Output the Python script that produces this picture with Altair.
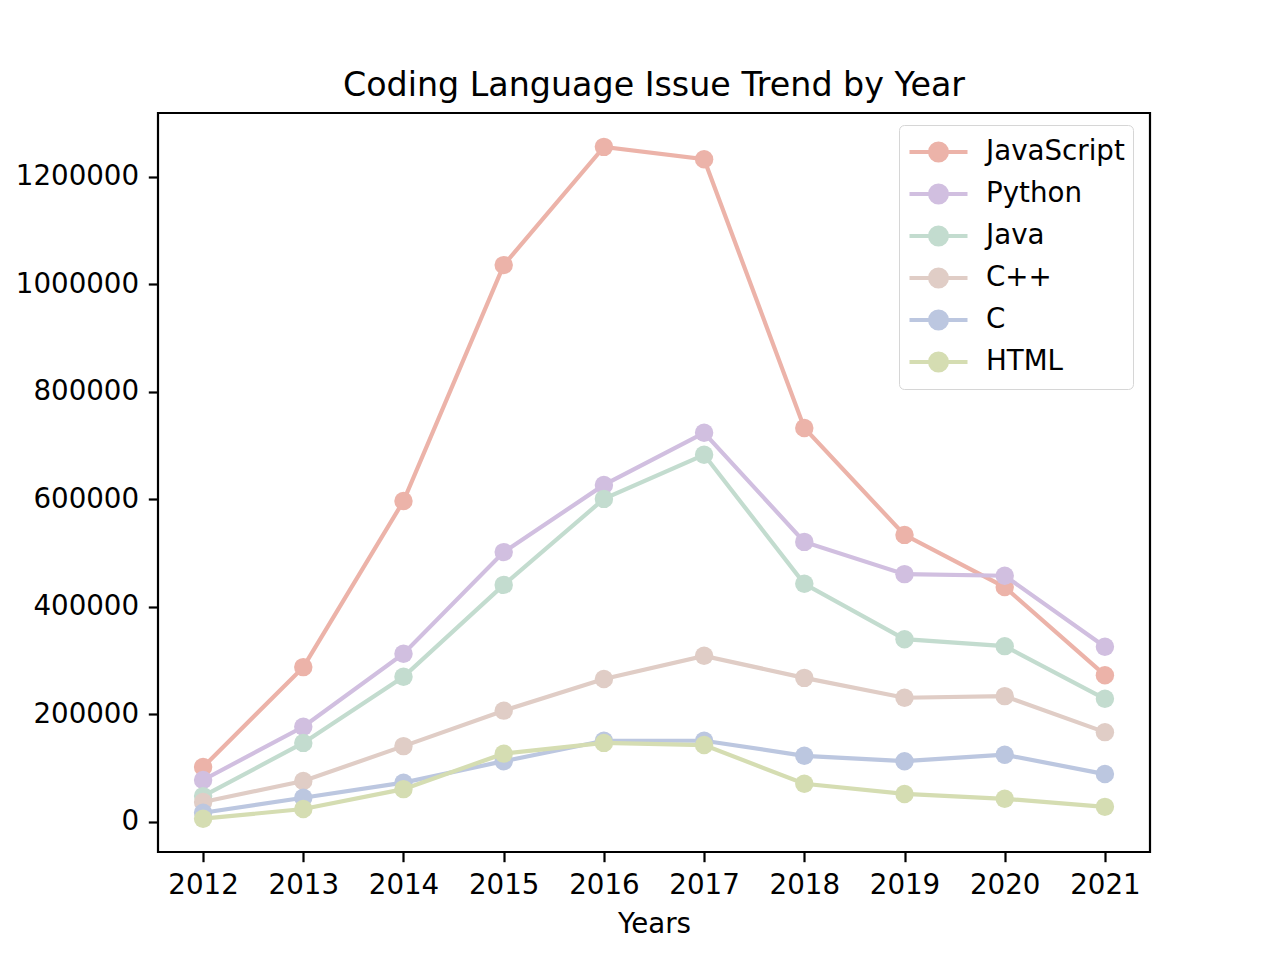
import altair as alt
import pandas as pd

years = list(range(2012, 2022))
languages = ["JavaScript", "Python", "Java", "C++", "C", "HTML"]
javascript = [102000, 288000, 597000, 1036000, 1256000, 1233000, 733000, 534000, 437000, 273000]
python = [78000, 177000, 313000, 502000, 627000, 724000, 521000, 461000, 458000, 326000]
java = [48000, 147000, 270000, 441000, 601000, 683000, 443000, 340000, 327000, 229000]
cpp = [37000, 76000, 141000, 207000, 266000, 309000, 268000, 231000, 234000, 167000]
c_lang = [17000, 45000, 73000, 113000, 151000, 151000, 123000, 113000, 125000, 89000]
html = [6000, 24000, 61000, 127000, 147000, 143000, 71000, 52000, 43000, 28000]
series = [javascript, python, java, cpp, c_lang, html]
colors = ["#ecb3a9", "#d1bfe0", "#c3dccf", "#e0cdc6", "#bcc7e0", "#d5ddb2"]
y_ticks = [0, 200000, 400000, 600000, 800000, 1000000, 1200000]

rows = []
for lang, vals in zip(languages, series):
    for yr, v in zip(years, vals):
        rows.append({"Year": yr, "Language": lang, "Issues": v})
df = pd.DataFrame(rows)

FONT = "DejaVu Sans"
legend_path = ("M -1 0 L 1 0 M -0.29 0 A 0.29 0.29 0 1 0 0.29 0 "
               "A 0.29 0.29 0 1 0 -0.29 0 Z")

color = alt.Color(
    "Language:N",
    scale=alt.Scale(domain=languages, range=colors),
    legend=alt.Legend(
        title=None, orient="none", legendX=741, legendY=12,
        symbolType=legend_path, symbolSize=3364, symbolStrokeWidth=4.2,
        labelFontSize=27.7, labelFont=FONT, labelColor="black",
        labelOffset=16, padding=8, clipHeight=38, rowPadding=4,
        fillColor="white", strokeColor="#d6d6d6", cornerRadius=5,
        labelLimit=400,
    ),
)
x = alt.X("Year:Q",
          scale=alt.Scale(domain=[2011.55, 2021.45], nice=False, zero=False),
          axis=alt.Axis(values=years, format="d", title="Years"))
y = alt.Y("Issues:Q",
          scale=alt.Scale(domain=[-56000, 1319000], nice=False, zero=False),
          axis=alt.Axis(values=y_ticks, format="d", title=None))

base = alt.Chart(df)
layers = []
for lang in languages:
    sub = base.transform_filter(alt.datum.Language == lang)
    layers.append(sub.mark_line(strokeWidth=4.2).encode(x=x, y=y, color=color))
    layers.append(sub.mark_circle(size=340, opacity=1).encode(x=x, y=y, color=color))

chart = alt.layer(*layers).properties(
    width=992, height=739,
    title=alt.TitleParams("Coding Language Issue Trend by Year", fontSize=33.3,
                          font=FONT, fontWeight="normal", color="black",
                          offset=10, anchor="middle"),
    autosize=alt.AutoSizeParams(type="none"),
    padding={"left": 158, "top": 113, "right": 128, "bottom": 106},
).configure_view(
    stroke="black", strokeWidth=2.2
).configure_axis(
    grid=False, domain=False, tickColor="black", tickSize=9.7, tickWidth=2.2,
    labelFontSize=27.7, labelFont=FONT, labelColor="black", labelPadding=9.7,
    titleFontSize=27.7, titleFont=FONT, titleColor="black", titleFontWeight="normal",
    titlePadding=11,
)

chart.save("out.html", embed_options={"renderer": "svg", "actions": False})
